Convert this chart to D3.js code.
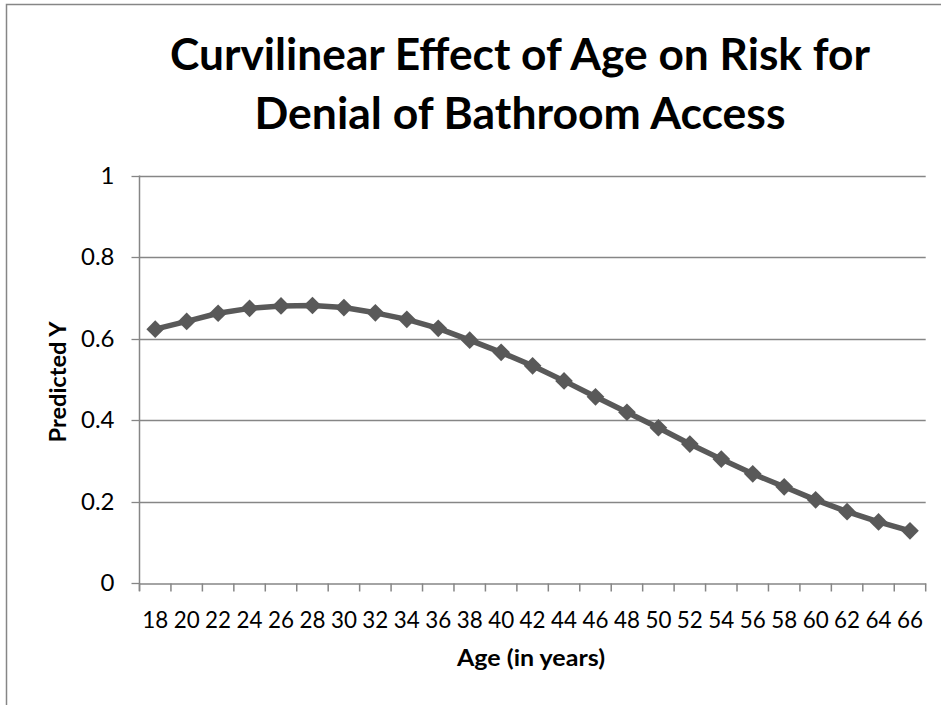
<!DOCTYPE html>
<html>
<head>
<meta charset="utf-8">
<script src="https://cdn.jsdelivr.net/npm/d3@7"></script>
<style>
  html, body { margin: 0; padding: 0; background: #fff; }
  svg { display: block; }
</style>
</head>
<body>
<svg id="chart" width="941" height="705"></svg>
<script>
// ---- data ----
const ages = ["18","20","22","24","26","28","30","32","34","36","38","40","42","44","46","48","50","52","54","56","58","60","62","64","66"];
const predictedY = [0.623,0.642,0.662,0.674,0.680,0.681,0.676,0.663,0.647,0.625,0.596,0.566,0.533,0.496,0.457,0.419,0.381,0.341,0.304,0.268,0.236,0.204,0.175,0.150,0.128];
const yTicks = [0, 0.2, 0.4, 0.6, 0.8, 1];
const yTickLabels = ["0", "0.2", "0.4", "0.6", "0.8", "1"];
const titleLines = ["Curvilinear Effect of Age on Risk for", "Denial of Bathroom Access"];
const xTitle = "Age (in years)";
const yTitle = "Predicted Y";

// ---- layout ----
const svg = d3.select("#chart");
const plot = { left: 139.5, right: 925.7, top: 175.5, bottom: 583 };
const gridColor = "#868686";
const lineColor = "#595959";
const FONT = "Lato, 'Open Sans', sans-serif";

// outer chart border
svg.append("rect")
  .attr("x", 6.5).attr("y", 4.5).attr("width", 1000).attr("height", 800)
  .attr("fill", "none").attr("stroke", gridColor).attr("stroke-width", 1.5);

const x = d3.scaleBand().domain(ages).range([plot.left, plot.right]).padding(0);
const y = d3.scaleLinear().domain([0, 1]).range([plot.bottom, plot.top]);

// gridlines
svg.append("g").selectAll("line").data(yTicks.filter(d => d > 0)).join("line")
  .attr("x1", plot.left).attr("x2", plot.right)
  .attr("y1", d => Math.round(y(d)) + 0.5).attr("y2", d => Math.round(y(d)) + 0.5)
  .attr("stroke", gridColor).attr("stroke-width", 1.3);

// y axis
const yAxis = d3.axisLeft(y).tickValues(yTicks)
  .tickFormat((d, i) => yTickLabels[i]).tickSize(8).tickPadding(17);
const gy = svg.append("g").attr("transform", `translate(${plot.left},0)`).call(yAxis);
gy.select(".domain").remove();
gy.selectAll(".tick line").attr("stroke", gridColor).attr("stroke-width", 1.3);
gy.selectAll(".tick").attr("transform", d => `translate(0,${Math.round(y(d)) + 0.5})`);
gy.selectAll(".tick text").attr("font-family", FONT).attr("font-size", 24).attr("fill", "#000");
svg.append("line")
  .attr("x1", plot.left).attr("x2", plot.left)
  .attr("y1", plot.top).attr("y2", plot.bottom + 8)
  .attr("stroke", gridColor).attr("stroke-width", 1.5);

// x axis
const xAxis = d3.axisBottom(x).tickSize(0).tickPadding(27);
const gx = svg.append("g").attr("transform", `translate(0,${Math.round(plot.bottom) + 0.5})`).call(xAxis);
gx.select(".domain").attr("stroke", gridColor).attr("stroke-width", 1.5);
gx.selectAll(".tick text").attr("font-family", FONT).attr("font-size", 24).attr("fill", "#000")
  .attr("textLength", 26).attr("lengthAdjust", "spacingAndGlyphs");
// category boundary ticks
const bounds = ages.map(a => x(a)).concat([x(ages[ages.length - 1]) + x.bandwidth()]);
gx.append("g").selectAll("line").data(bounds).join("line")
  .attr("x1", d => d).attr("x2", d => d).attr("y1", 0).attr("y2", 8)
  .attr("stroke", gridColor).attr("stroke-width", 1.5);

// series line
const cx = d => x(d) + x.bandwidth() / 2;
const line = d3.line().x((d, i) => cx(ages[i])).y(d => y(d));
svg.append("path").datum(predictedY)
  .attr("d", line).attr("fill", "none")
  .attr("stroke", lineColor).attr("stroke-width", 5.5).attr("stroke-linejoin", "round");

// diamond markers
const diamond = d3.symbol().type(d3.symbolDiamond2).size(200);
svg.append("g").selectAll("path").data(predictedY).join("path")
  .attr("d", diamond)
  .attr("transform", (d, i) => `translate(${cx(ages[i])},${y(d)})`)
  .attr("fill", lineColor);

// title
const titleCenter = 520;
const titleWidths = [700, 531];
const titleBaselines = [70, 129];
titleLines.forEach((t, i) => {
  svg.append("text").text(t)
    .attr("x", titleCenter).attr("y", titleBaselines[i]).attr("text-anchor", "middle")
    .attr("font-family", FONT).attr("font-weight", "bold").attr("font-size", 43).attr("fill", "#000")
    .attr("textLength", titleWidths[i]).attr("lengthAdjust", "spacingAndGlyphs");
});

// axis titles
svg.append("text").text(xTitle)
  .attr("x", 531).attr("y", 666).attr("text-anchor", "middle")
  .attr("font-family", FONT).attr("font-weight", "bold").attr("font-size", 23).attr("fill", "#000")
  .attr("textLength", 148).attr("lengthAdjust", "spacingAndGlyphs");
svg.append("text").text(yTitle)
  .attr("transform", `translate(66,382) rotate(-90)`).attr("text-anchor", "middle")
  .attr("font-family", FONT).attr("font-weight", "bold").attr("font-size", 23).attr("fill", "#000")
  .attr("textLength", 121).attr("lengthAdjust", "spacingAndGlyphs");
</script>
</body>
</html>
